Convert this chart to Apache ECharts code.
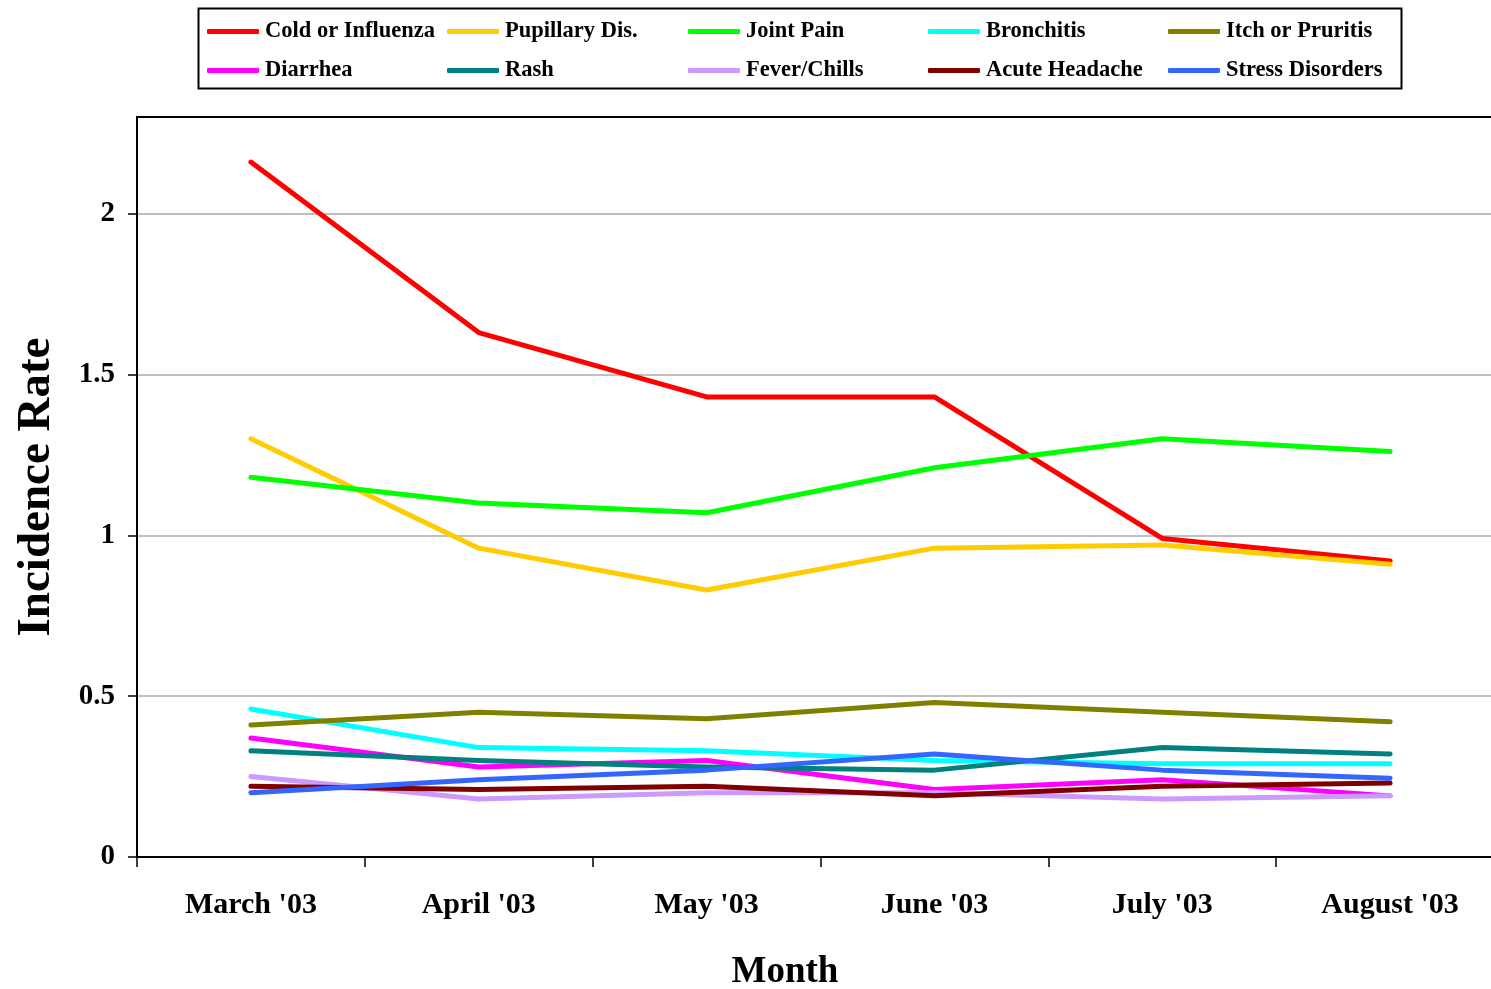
<!DOCTYPE html>
<html>
<head>
<meta charset="utf-8">
<script src="https://cdn.jsdelivr.net/npm/echarts@6/dist/echarts.min.js"></script>
<style>
  html, body { margin: 0; padding: 0; background: #fff; overflow: hidden; }
  /* the plot runs a little past the right edge of the window */
  #chart { width: 1504px; height: 989px; }
</style>
</head>
<body>
<div id="chart"></div>
<script>
// Monthly incidence rates by complaint, March–August 2003
const months = ["March '03", "April '03", "May '03", "June '03", "July '03", "August '03"];

const coldInfluenza   = [2.16, 1.63, 1.43, 1.43, 0.99, 0.92];
const pupillaryDis    = [1.30, 0.96, 0.83, 0.96, 0.97, 0.91];
const jointPain       = [1.18, 1.10, 1.07, 1.21, 1.30, 1.26];
const bronchitis      = [0.46, 0.34, 0.33, 0.30, 0.29, 0.29];
const itchPruritis    = [0.41, 0.45, 0.43, 0.48, 0.45, 0.42];
const diarrhea        = [0.37, 0.28, 0.30, 0.21, 0.24, 0.19];
const rash            = [0.33, 0.30, 0.28, 0.27, 0.34, 0.32];
const feverChills     = [0.25, 0.18, 0.20, 0.20, 0.18, 0.19];
const acuteHeadache   = [0.22, 0.21, 0.22, 0.19, 0.22, 0.23];
const stressDisorders = [0.20, 0.24, 0.27, 0.32, 0.27, 0.245];

const yTicks = [0, 0.5, 1, 1.5, 2];

const seriesDefs = [
  { name: 'Cold or Influenza', data: coldInfluenza,   color: '#FF0000' },
  { name: 'Pupillary Dis.',    data: pupillaryDis,    color: '#FFCC00' },
  { name: 'Joint Pain',        data: jointPain,       color: '#00FF00' },
  { name: 'Bronchitis',        data: bronchitis,      color: '#00FFFF' },
  { name: 'Itch or Pruritis',  data: itchPruritis,    color: '#808000' },
  { name: 'Diarrhea',          data: diarrhea,        color: '#FF00FF' },
  { name: 'Rash',              data: rash,            color: '#008080' },
  { name: 'Fever/Chills',      data: feverChills,     color: '#CC99FF' },
  { name: 'Acute Headache',    data: acuteHeadache,   color: '#800000' },
  { name: 'Stress Disorders',  data: stressDisorders, color: '#3366FF' }
];

const serif = '"Liberation Serif", "Times New Roman", serif';

// Legend laid out as five columns of two rows each
const legendColumns = [207, 447, 688, 928, 1168];
const legends = legendColumns.map((x, i) => ({
  orient: 'vertical',
  left: x,
  top: 20,
  itemWidth: 52,
  itemHeight: 5,
  itemGap: 16,
  icon: 'roundRect',
  selectedMode: false,
  padding: 0,
  data: [seriesDefs[i].name, seriesDefs[i + 5].name],
  textStyle: {
    fontFamily: serif,
    fontWeight: 'bold',
    fontSize: 22.5,
    lineHeight: 22,
    color: '#000',
    padding: [0, 0, 0, 1]
  }
}));

const chart = echarts.init(document.getElementById('chart'), null, { renderer: 'canvas' });

chart.setOption({
  backgroundColor: '#fff',
  animation: false,
  legend: legends,
  grid: {
    left: 137,
    top: 117,
    width: 1367,
    height: 740,
    show: true,
    borderColor: '#000',
    borderWidth: 2,
    containLabel: false,
    z: 3
  },
  xAxis: {
    type: 'category',
    data: months,
    boundaryGap: true,
    axisLine: { lineStyle: { color: '#000', width: 2 } },
    axisTick: { show: true, inside: false, length: 10, alignWithLabel: false, lineStyle: { color: '#000', width: 1.5 } },
    axisLabel: {
      margin: 33,
      fontFamily: serif,
      fontWeight: 'bold',
      fontSize: 30,
      color: '#000'
    },
    splitLine: { show: false }
  },
  yAxis: {
    type: 'value',
    min: 0,
    max: 2.3,
    interval: 0.5,
    name: 'Incidence Rate',
    nameLocation: 'middle',
    nameGap: 77,
    nameTextStyle: {
      fontFamily: serif,
      fontWeight: 'bold',
      fontSize: 47,
      color: '#000'
    },
    axisLine: { show: true, lineStyle: { color: '#000', width: 2 } },
    axisTick: { show: true, inside: false, length: 9, lineStyle: { color: '#000', width: 1.5 } },
    axisLabel: {
      margin: 22,
      showMaxLabel: false,
      fontFamily: serif,
      fontWeight: 'bold',
      fontSize: 29,
      color: '#000',
      formatter: v => (yTicks.indexOf(Math.round(v * 10) / 10) >= 0 ? String(v) : '')
    },
    splitLine: { show: true, showMaxLine: false, lineStyle: { color: '#C0C0C0', width: 2 } }
  },
  graphic: [
    {
      type: 'rect',
      shape: { x: 198.5, y: 8.5, width: 1203, height: 80 },
      style: { fill: 'none', stroke: '#000', lineWidth: 2 },
      silent: true
    },
    {
      // top edge of the plot frame
      type: 'line',
      shape: { x1: 137, y1: 117, x2: 1504, y2: 117 },
      style: { stroke: '#000', lineWidth: 2 },
      z: 10,
      silent: true
    },
    {
      type: 'text',
      x: 785,
      y: 972,
      style: {
        text: 'Month',
        fontFamily: serif,
        fontWeight: 'bold',
        fontSize: 37,
        fill: '#000',
        textAlign: 'center',
        textVerticalAlign: 'middle'
      },
      silent: true
    }
  ],
  series: seriesDefs.map(s => ({
    name: s.name,
    type: 'line',
    data: s.data,
    showSymbol: false,
    symbol: 'none',
    color: s.color,
    lineStyle: { color: s.color, width: 5, cap: 'round', join: 'round' },
    emphasis: { disabled: true }
  }))
});
</script>
</body>
</html>
